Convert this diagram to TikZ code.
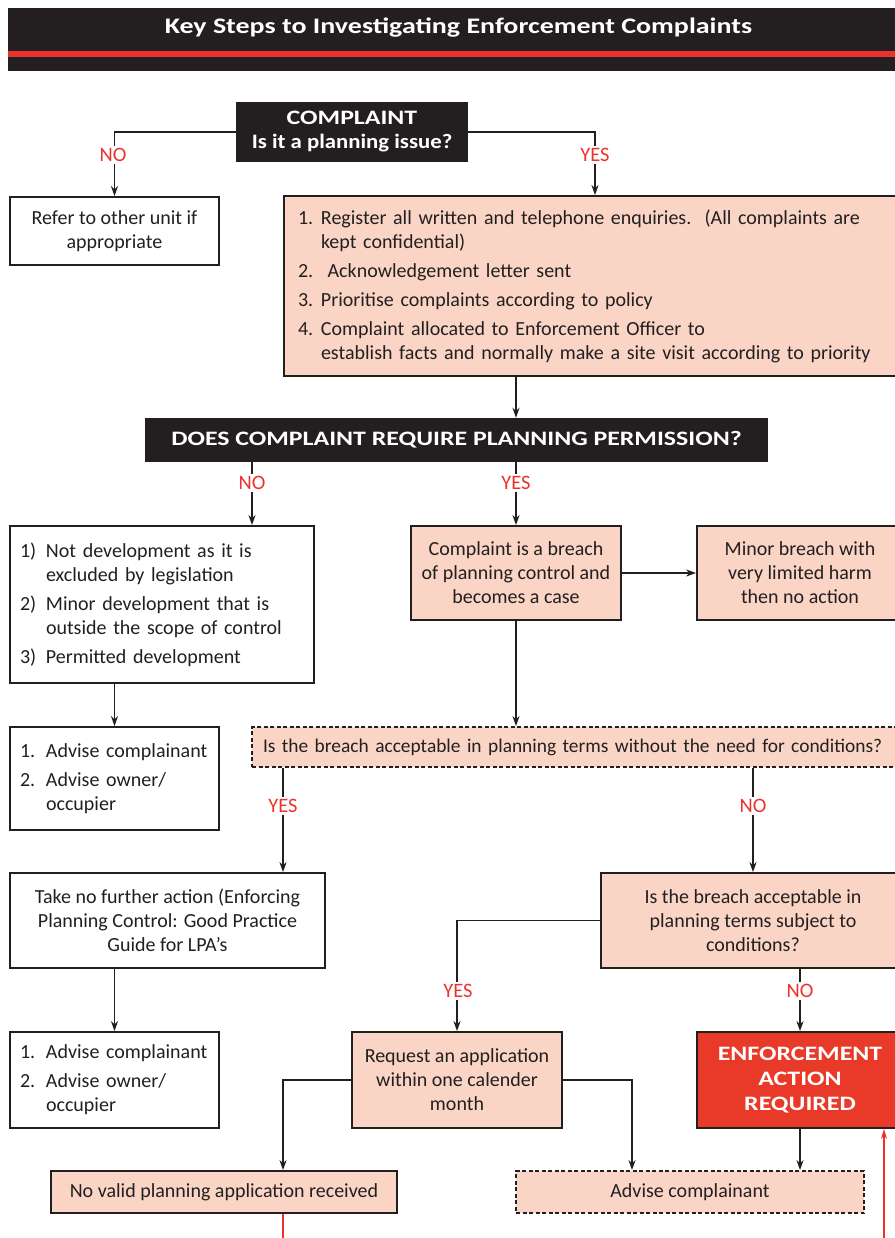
\documentclass[tikz,border=0pt]{standalone}
\usepackage{fontspec}
\setmainfont{Carlito}
\newfontfamily\headfont[FakeStretch=1.26]{Carlito}
\newfontfamily\headfontb[FakeStretch=1.11]{Carlito}
\usetikzlibrary{arrows.meta}
\definecolor{ink}{RGB}{35,31,32}
\definecolor{salmon}{RGB}{250,213,197}
\definecolor{lblred}{RGB}{237,50,45}
\definecolor{enfred}{RGB}{233,57,41}
\newcommand{\bodyfont}{\fontsize{20}{24}\selectfont}
\newcommand{\nm}[1]{\makebox[26pt][l]{#1}}
\newcommand{\nmb}[1]{\makebox[23pt][l]{#1}}
\begin{document}
\begin{tikzpicture}[x=1pt,y=-1pt,
  base/.style={draw=ink, line width=1.8pt, inner sep=0pt, font=\bodyfont, text=ink},
  wbox/.style={base, fill=white, align=center},
  pbox/.style={base, fill=salmon, align=center},
  dbox/.style={pbox, dashed, dash pattern=on 4pt off 2.5pt},
  kbox/.style={fill=ink, text=white, inner sep=0pt, align=center, font=\headfont\bfseries\fontsize{20.5}{24}\selectfont},
  ebox/.style={base, fill=enfred, text=white, align=center, font=\headfont\bfseries\fontsize{20.5}{25}\selectfont},
  arr/.style={draw=ink, line width=1.7pt, -{Stealth[length=10pt,width=7pt]}},
  lbl/.style={text=lblred, fill=white, inner sep=2pt, font=\fontsize{20.5}{24}\selectfont},
  rln/.style={draw=lblred, line width=1.4pt},
]
\useasboundingbox (0,0) rectangle (894,1238);
% title bar
\fill[ink] (8,8) rectangle (900,71);
\fill[lblred] (8,51) rectangle (900,57);
\node[text=white, inner sep=0pt, font=\headfont\bfseries\fontsize{22.2}{26}\selectfont] (title) at (458.5,28) {Key Steps to Investigating Enforcement Complaints};

% nodes
\node[kbox, minimum width=232pt, minimum height=60pt] (complaint) at (352,132)
  {COMPLAINT\\{\headfontb\bfseries Is it a planning issue?}};
\node[wbox, minimum width=209pt, minimum height=68pt] (refer) at (114.5,231) {Refer to other unit if\\appropriate};
\node[pbox, align=left, minimum width=622pt, minimum height=180pt, text width=594pt] (reg) at (595,286)
  {\nmb{1.}Register all written and telephone enquiries.\ \ (All complaints are\\
   \hspace*{23pt}kept confidential)\\[5pt]
   \nmb{2.}\ Acknowledgement letter sent\\[5pt]
   \nmb{3.}Prioritise complaints according to policy\\[5pt]
   \nmb{4.}Complaint allocated to Enforcement Officer to\\
   \hspace*{23pt}establish facts and normally make a site visit according to priority};
\node[kbox, minimum width=623pt, minimum height=44pt] (does) at (456.5,440)
  {DOES COMPLAINT REQUIRE PLANNING PERMISSION?};
\node[wbox, align=left, minimum width=304pt, minimum height=157pt, text width=284pt] (notdev) at (162,604.5)
  {\nm{1)}Not development as it is\\
   \hspace*{26pt}excluded by legislation\\[5pt]
   \nm{2)}Minor development that is\\
   \hspace*{26pt}outside the scope of control\\[5pt]
   \nm{3)}Permitted development};
\node[pbox, minimum width=210pt, minimum height=94pt] (breach) at (516,573) {Complaint is a breach\\of planning control and\\becomes a case};
\node[pbox, minimum width=206pt, minimum height=94pt] (minor) at (800,573) {Minor breach with\\very limited harm\\then no action};
\node[dbox, align=left, minimum width=680pt, minimum height=40pt, text width=658pt, font=\fontsize{19.4}{24}\selectfont] (accept) at (592,747)
  {Is the breach acceptable in planning terms without the need for conditions?};
\node[wbox, align=left, minimum width=209pt, minimum height=103pt, text width=189pt] (adv1) at (114.5,778.5)
  {\nm{1.}Advise complainant\\[5pt]
   \nm{2.}Advise owner/\\
   \hspace*{26pt}occupier};
\node[wbox, minimum width=315pt, minimum height=95pt] (nofurther) at (167.5,920.5)
  {Take no further action (Enforcing\\Planning Control: Good Practice\\Guide for LPA's};
\node[pbox, minimum width=304pt, minimum height=95pt] (cond) at (753,920.5)
  {Is the breach acceptable in\\planning terms subject to\\conditions?};
\node[wbox, align=left, minimum width=209pt, minimum height=96pt, text width=189pt] (adv2) at (114.5,1080)
  {\nm{1.}Advise complainant\\[5pt]
   \nm{2.}Advise owner/\\
   \hspace*{26pt}occupier};
\node[pbox, minimum width=210pt, minimum height=96pt] (request) at (457,1080)
  {Request an application\\within one calender\\month};
\node[ebox, minimum width=206pt, minimum height=96pt] (enforce) at (800,1080)
  {ENFORCEMENT\\ACTION\\REQUIRED};
\node[pbox, minimum width=346pt, minimum height=42pt] (novalid) at (224,1192)
  {No valid planning application received};
\node[dbox, minimum width=348pt, minimum height=42pt] (advc) at (690,1192)
  {Advise complainant};

% helper coordinates
\coordinate (xa) at (252,0);
\coordinate (xb) at (283,0);
\coordinate (xc) at (632,0);
\coordinate (rb1) at (283,1242);
\coordinate (rb2) at (884,1242);

% connectors
\draw[arr] (complaint.west) -| (refer.north);
\draw[arr] (complaint.east) -| (reg.north);
\draw[arr] (reg.south -| breach.north) -- (does.north -| breach.north);
\draw[arr] (does.south -| xa) -- (notdev.north -| xa);
\draw[arr] (does.south -| breach.north) -- (breach.north);
\draw[arr] (breach.east) -- (minor.west);
\draw[arr] (breach.south) -- (accept.north -| breach.south);
\draw[arr] (notdev.south -| adv1.north) -- (adv1.north);
\draw[arr] (accept.south -| xb) -- (nofurther.north -| xb);
\draw[arr] (accept.south -| cond.north) -- (cond.north);
\draw[arr] (nofurther.south -| adv2.north) -- (adv2.north);
\draw[arr] (cond.west) -| (request.north);
\draw[arr] (cond.south -| enforce.north) -- (enforce.north);
\draw[arr] (request.west) -| (novalid.north -| xb);
\draw[arr] (request.east) -| (advc.north -| xc);
\draw[arr] (enforce.south) -- (advc.north -| enforce.south);
\draw[rln] (novalid.south -| rb1) -- (rb1);
\draw[rln, -{Stealth[length=10pt,width=6pt]}] (rb2) -- (enforce.south -| rb2);

% labels
\node[lbl] (l1) at (113,155) {NO};
\node[lbl] (l2) at (595,155) {YES};
\node[lbl] (l3) at (252,483) {NO};
\node[lbl] (l4) at (516,483) {YES};
\node[lbl] (l5) at (283,806) {YES};
\node[lbl] (l6) at (753,806) {NO};
\node[lbl] (l7) at (458,991) {YES};
\node[lbl] (l8) at (800,991) {NO};
\end{tikzpicture}
\end{document}
